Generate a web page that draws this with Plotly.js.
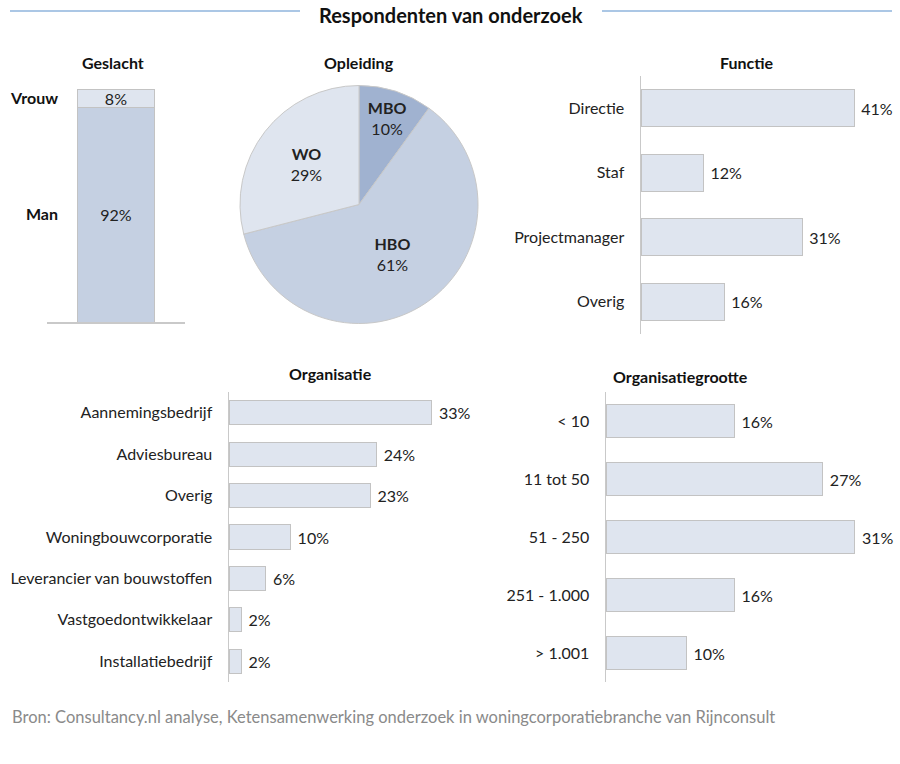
<!DOCTYPE html>
<html>
<head>
<meta charset="utf-8">
<script src="https://cdn.plot.ly/plotly-3.0.1.min.js"></script>
<style>
  html, body { margin: 0; padding: 0; background: #fff; }
  #chart { width: 900px; height: 764px; }
</style>
</head>
<body>
<div id="chart"></div>
<script>
// Geslacht
const geslachtLabels = ["Man", "Vrouw"];
const geslachtValues = [92, 8];

// Opleiding
const opleidingLabels = ["MBO", "HBO", "WO"];
const opleidingValues = [10, 61, 29];

// Functie
const functieLabels = ["Directie", "Staf", "Projectmanager", "Overig"];
const functieValues = [41, 12, 31, 16];

// Organisatie
const organisatieLabels = ["Aannemingsbedrijf", "Adviesbureau", "Overig", "Woningbouwcorporatie",
  "Leverancier van bouwstoffen", "Vastgoedontwikkelaar", "Installatiebedrijf"];
const organisatieValues = [33, 24, 23, 10, 6, 2, 2];

// Organisatiegrootte
const grootteLabels = ["< 10", "11 tot 50", "51 - 250", "251 - 1.000", "> 1.001"];
const grootteValues = [16, 27, 31, 16, 10];

const FONT = "Lato, 'Open Sans', sans-serif";
const W = 900, H = 764;
const px = (x) => x / W;
const py = (y) => 1 - y / H;

const barFill = "#dfe5ef";
const barLine = "#c3c3c3";
const axisCol = "#c9c9c9";
const FS = 16;

// centres of the stacked segments, for the Geslacht labels
const segMid = [];
let acc = 0;
geslachtValues.forEach((v) => { segMid.push(acc + v / 2); acc += v; });

const pct = (v) => "\u00a0" + v + "%";

const traces = [
  {
    type: "bar", x: ["g"], y: [geslachtValues[0]], name: geslachtLabels[0],
    width: 0.558, marker: { color: "#c5d0e2", line: { color: barLine, width: 1 } },
    text: [geslachtValues[0] + "%"], textposition: "inside", insidetextanchor: "middle",
    constraintext: "none", textfont: { size: FS, color: "#222" },
    xaxis: "x", yaxis: "y", hoverinfo: "skip",
  },
  {
    type: "bar", x: ["g"], y: [geslachtValues[1]], name: geslachtLabels[1],
    width: 0.558, marker: { color: barFill, line: { color: barLine, width: 1 } },
    text: [geslachtValues[1] + "%"], textposition: "inside", insidetextanchor: "middle",
    constraintext: "none", textfont: { size: FS, color: "#222" },
    xaxis: "x", yaxis: "y", hoverinfo: "skip",
  },
  {
    type: "pie", labels: opleidingLabels, values: opleidingValues, sort: false,
    direction: "clockwise", rotation: 0,
    marker: { colors: ["#a0b2d0", "#c5d0e2", "#dfe5ef"], line: { color: "#c8c8c8", width: 1 } },
    texttemplate: "<b>%{label}</b><br>%{value}%", textposition: "inside",
    insidetextorientation: "horizontal", textfont: { size: FS, color: "#222" },
    domain: { x: [px(240), px(478)], y: [py(324), py(85)] },
    hoverinfo: "skip", showlegend: false,
  },
  {
    type: "bar", orientation: "h", y: functieLabels, x: functieValues, width: 0.57,
    marker: { color: barFill, line: { color: barLine, width: 1 } },
    text: functieValues.map(pct), textposition: "outside", cliponaxis: false,
    textfont: { size: FS, color: "#222" }, xaxis: "x2", yaxis: "y2", hoverinfo: "skip",
  },
  {
    type: "bar", orientation: "h", y: organisatieLabels, x: organisatieValues, width: 0.58,
    marker: { color: barFill, line: { color: barLine, width: 1 } },
    text: organisatieValues.map(pct), textposition: "outside", cliponaxis: false,
    textfont: { size: FS, color: "#222" }, xaxis: "x3", yaxis: "y3", hoverinfo: "skip",
  },
  {
    type: "bar", orientation: "h", y: grootteLabels, x: grootteValues, width: 0.57,
    marker: { color: barFill, line: { color: barLine, width: 1 } },
    text: grootteValues.map(pct), textposition: "outside", cliponaxis: false,
    textfont: { size: FS, color: "#222" }, xaxis: "x4", yaxis: "y4", hoverinfo: "skip",
  },
];

const hAxisY = (domain) => ({
  domain: domain, type: "category", autorange: "reversed",
  showline: true, linecolor: axisCol, linewidth: 1.5, showgrid: false, zeroline: false,
  ticks: "outside", ticklen: 12, tickcolor: "rgba(0,0,0,0)",
  tickfont: { size: FS, color: "#222" },
});
const hAxisX = (domain, max, anchor) => ({
  domain: domain, range: [0, max], visible: false, anchor: anchor,
});

const title = (text, x, y, size) => ({
  text: "<b>" + text + "</b>", x: px(x), y: py(y), xref: "paper", yref: "paper",
  xanchor: "center", yanchor: "middle",
  showarrow: false, font: { size: size || FS, color: "#111" },
});

const layout = {
  width: W, height: H,
  margin: { l: 0, r: 0, t: 0, b: 0 },
  paper_bgcolor: "#fff", plot_bgcolor: "rgba(0,0,0,0)",
  font: { family: FONT, color: "#222" },
  showlegend: false, barmode: "stack",
  xaxis: {
    domain: [px(47), px(185)], type: "category", range: [-0.5, 0.5],
    showticklabels: false, showline: true, linecolor: axisCol, linewidth: 1.5,
    ticks: "", showgrid: false, anchor: "y",
  },
  yaxis: {
    domain: [py(322), py(89)], range: [0, 100], anchor: "free", position: px(58),
    showgrid: false, zeroline: false, showline: false, ticks: "",
    tickvals: segMid, ticktext: geslachtLabels.map((l) => "<b>" + l + "</b>"),
    tickfont: { size: FS, color: "#111" },
  },
  xaxis2: hAxisX([px(641), px(875)], 45, "y2"),
  yaxis2: Object.assign(hAxisY([py(334), py(76)]), { anchor: "x2" }),
  xaxis3: hAxisX([px(229), px(475)], 40, "y3"),
  yaxis3: Object.assign(hAxisY([py(682), py(392)]), { anchor: "x3" }),
  xaxis4: hAxisX([px(606), px(887)], 35, "y4"),
  yaxis4: Object.assign(hAxisY([py(682), py(392)]), { anchor: "x4" }),
  annotations: [
    title("Respondenten van onderzoek", 451, 15, 20),
    title("Geslacht", 113, 62),
    title("Opleiding", 359, 62),
    title("Functie", 747, 62),
    title("Organisatie", 330, 373),
    title("Organisatiegrootte", 680, 376),
    {
      text: "Bron: Consultancy.nl analyse, Ketensamenwerking onderzoek in woningcorporatiebranche van Rijnconsult",
      x: px(10), y: py(717), xref: "paper", yref: "paper", xanchor: "left", yanchor: "middle",
      showarrow: false, font: { size: 16.5, color: "#8a8a8a" },
    },
  ],
  shapes: [
    { type: "line", xref: "paper", yref: "paper", x0: px(10), x1: px(300), y0: py(11), y1: py(11),
      line: { color: "#8fb4dc", width: 1.5 } },
    { type: "line", xref: "paper", yref: "paper", x0: px(602), x1: px(892), y0: py(11), y1: py(11),
      line: { color: "#8fb4dc", width: 1.5 } },
  ],
};

Plotly.newPlot("chart", traces, layout, { displayModeBar: false, staticPlot: true });
</script>
</body>
</html>
